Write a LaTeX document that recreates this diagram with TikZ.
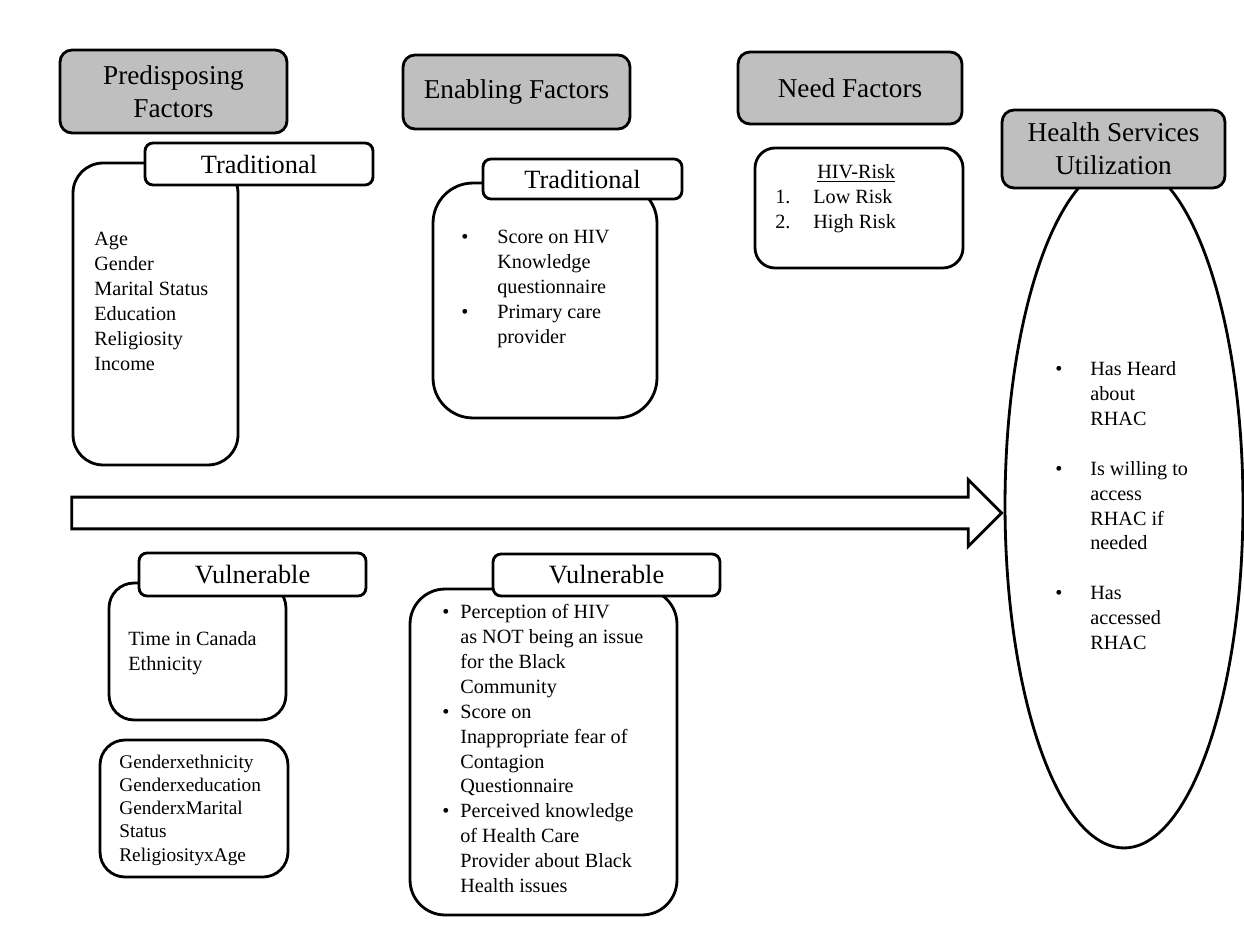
\documentclass[tikz,border=0pt]{standalone}
\usepackage{fontspec}
\setmainfont{Liberation Serif}
\usetikzlibrary{shapes.geometric,shapes.arrows}

\begin{document}
\begin{tikzpicture}[
    x=0.02cm, y=-0.02cm,
    header/.style={
      rectangle,
      rounded corners=0.24cm,
      draw,
      line width=1.6pt,
      fill=black!25,
      align=center,
      inner sep=0pt,
      font=\fontsize{15.5}{18.6}\selectfont
    },
    tab/.style={
      rectangle,
      rounded corners=0.16cm,
      draw,
      line width=1.6pt,
      fill=white,
      inner sep=0pt,
      font=\fontsize{15}{18}\selectfont
    },
    listbox/.style={
      rectangle,
      draw,
      line width=1.6pt,
      fill=white,
      inner sep=0pt
    },
    listtext/.style={
      anchor=north west,
      inner sep=0pt,
      font=\fontsize{11.5}{14.2}\selectfont
    },
    bigarrow/.style={
      single arrow,
      draw,
      line width=1.6pt,
      fill=white,
      inner xsep=0pt,
      inner ysep=0.29cm,
      minimum height=18.6cm,
      single arrow head extend=0.35cm
    },
  ]

  \path[use as bounding box, fill=white] (0,0) rectangle (1244,945);

  %%%%%%%%%%%%%%%%%%%%%%%%%%%%%%%%%%%%%%%%%%%%%%
  %%%%%%%%%%%%%%%% OUTCOME %%%%%%%%%%%%%%%%%%%%%%
  %%%%%%%%%%%%%%%%%%%%%%%%%%%%%%%%%%%%%%%%%%%%%%
    \node[ellipse, draw, line width=1.6pt, fill=white, minimum width=4.76cm, minimum height=13.72cm] (use) at (1124,505) {};
    \node[header, minimum width=4.46cm, minimum height=1.56cm] (usehead) at (1113.5,149) {Health Services\\Utilization};

    \node[bigarrow, anchor=tip] (flow) at ([yshift=-0.16cm]use.west) {};

  %%%%%%%%%%%%%%%%%%%%%%%%%%%%%%%%%%%%%%%%%%%%%%
  %%%%%%%%%%%%%%%% HEADERS %%%%%%%%%%%%%%%%%%%%%%
  %%%%%%%%%%%%%%%%%%%%%%%%%%%%%%%%%%%%%%%%%%%%%%
    \node[header, minimum width=4.54cm, minimum height=1.66cm] (predhead) at (173.5,91.5) {Predisposing\\Factors};
    \node[header, minimum width=4.54cm, minimum height=1.48cm] (enabhead) at (516.5,92) {Enabling Factors};
    \node[header, minimum width=4.48cm, minimum height=1.44cm] (needhead) at (850,88) {Need Factors};

  %%%%%%%%%%%%%%%%%%%%%%%%%%%%%%%%%%%%%%%%%%%%%%
  %%%%%%%%%%%%%%%% BOXES %%%%%%%%%%%%%%%%%%%%%%%%
  %%%%%%%%%%%%%%%%%%%%%%%%%%%%%%%%%%%%%%%%%%%%%%
    \node[listbox, rounded corners=0.6cm, minimum width=3.30cm, minimum height=6.04cm] (predtrad) at (155.5,314) {};
    \node[tab, minimum width=4.56cm, minimum height=0.84cm] (predtradtab) at (259,164) {Traditional};

    \node[listbox, rounded corners=0.8cm, minimum width=4.48cm, minimum height=4.70cm] (enabtrad) at (545,300.5) {};
    \node[tab, minimum width=3.98cm, minimum height=0.80cm] (enabtradtab) at (582.5,179) {Traditional};

    \node[listbox, rounded corners=0.4cm, minimum width=4.16cm, minimum height=2.40cm] (hivrisk) at (859,208) {};

    \node[listbox, rounded corners=0.5cm, minimum width=3.54cm, minimum height=2.74cm] (predvuln) at (197.5,651.5) {};
    \node[tab, minimum width=4.54cm, minimum height=0.86cm] (predvulntab) at (252.5,574.5) {Vulnerable};

    \node[listbox, rounded corners=0.5cm, minimum width=3.76cm, minimum height=2.74cm] (interact) at (194,808.5) {};

    \node[listbox, rounded corners=0.7cm, minimum width=5.34cm, minimum height=6.52cm] (enabvuln) at (543.5,752) {};
    \node[tab, minimum width=4.54cm, minimum height=0.84cm] (enabvulntab) at (606.5,575) {Vulnerable};

  %%%%%%%%%%%%%%%%%%%%%%%%%%%%%%%%%%%%%%%%%%%%%%
  %%%%%%%%%%%%%%%% TEXTS %%%%%%%%%%%%%%%%%%%%%%%%
  %%%%%%%%%%%%%%%%%%%%%%%%%%%%%%%%%%%%%%%%%%%%%%
    \node[listtext] (predtradlist) at (94,227.5) {\begin{tabular}{@{}l@{}}
      Age\\ Gender\\ Marital Status\\ Education\\ Religiosity\\ Income
    \end{tabular}};

    \node[listtext] (enabtradlist) at (461,225.5) {\begin{tabular}{@{}p{0.72cm}@{}l@{}}
      \textbullet & Score on HIV\\
                  & Knowledge\\
                  & questionnaire\\
      \textbullet & Primary care\\
                  & provider
    \end{tabular}};

    \node[listtext] (hivlist) at (775,160.5) {\begin{tabular}{@{}p{0.76cm}@{}l@{}}
      \multicolumn{2}{@{}l@{}}{\hspace{0.84cm}\underline{HIV-Risk}}\\
      1. & Low Risk\\
      2. & High Risk
    \end{tabular}};

    \node[listtext] (predvulnlist) at (128,627.5) {\begin{tabular}{@{}l@{}}
      Time in Canada\\ Ethnicity
    \end{tabular}};

    \node[listtext, font=\fontsize{11}{13.2}\selectfont] (interactlist) at (119,751.7) {\begin{tabular}{@{}l@{}}
      Genderxethnicity\\ Genderxeducation\\ GenderxMarital\\ Status\\ ReligiosityxAge
    \end{tabular}};

    \node[listtext] (enabvulnlist) at (442,600.5) {\begin{tabular}{@{}p{0.36cm}@{}l@{}}
      \textbullet & Perception of HIV\\
                  & as NOT being an issue\\
                  & for the Black\\
                  & Community\\
      \textbullet & Score on\\
                  & Inappropriate fear of\\
                  & Contagion\\
                  & Questionnaire\\
      \textbullet & Perceived knowledge\\
                  & of Health Care\\
                  & Provider about Black\\
                  & Health issues
    \end{tabular}};

    \node[listtext] (uselist) at (1055,357.5) {\begin{tabular}{@{}p{0.7cm}@{}l@{}}
      \textbullet & Has Heard\\
                  & about\\
                  & RHAC\\
                  & \\
      \textbullet & Is willing to\\
                  & access\\
                  & RHAC if\\
                  & needed\\
                  & \\
      \textbullet & Has\\
                  & accessed\\
                  & RHAC
    \end{tabular}};

\end{tikzpicture}
\end{document}
